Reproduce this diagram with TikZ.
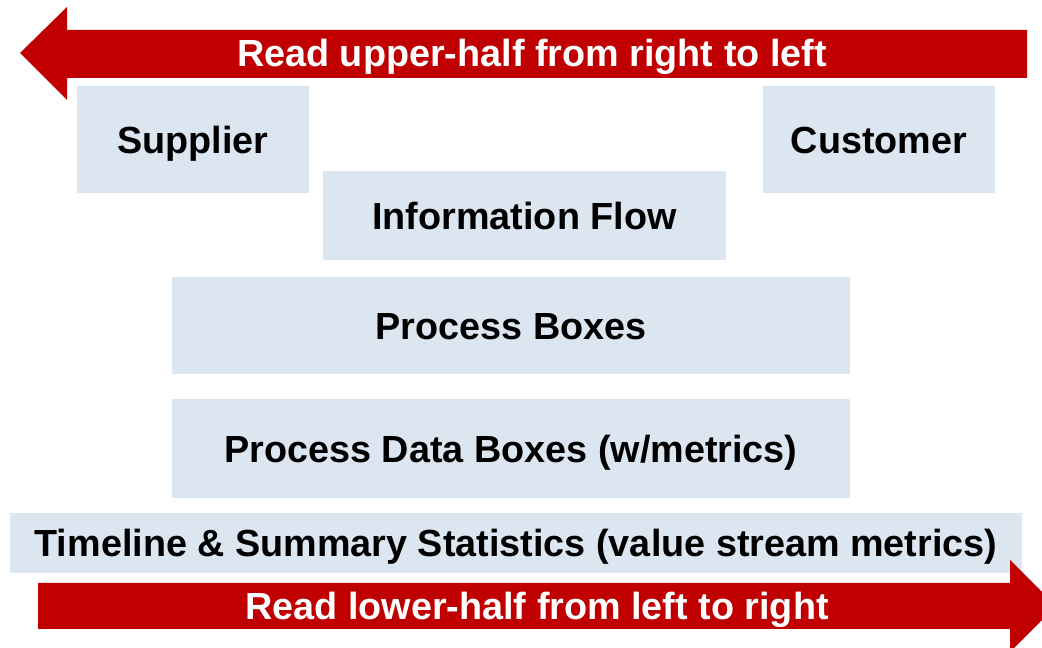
\documentclass[tikz,border=0pt]{standalone}
\usepackage{fontspec}
\setmainfont{Liberation Sans}
\usepackage{tikz}
\usetikzlibrary{calc}
\definecolor{arrowred}{HTML}{C00000}
\definecolor{boxblue}{HTML}{DCE6F1}
\tikzset{
  vsm/.style={fill=boxblue, inner sep=0pt, text height=15.5pt, text depth=0pt,
    font=\fontsize{21.5}{25}\selectfont\bfseries},
  readtxt/.style={text=white, inner sep=0pt, text height=15.5pt, text depth=0pt,
    font=\fontsize{21.5}{25}\selectfont\bfseries}
}

\begin{document}
\begin{tikzpicture}[x=0.02cm, y=0.02cm]
        \useasboundingbox (0,0) rectangle (1042,648);
        \clip (0,0) rectangle (1042,648);

        % upper arrow
        \fill[arrowred] (20,595) -- (67,641) -- (67,618) -- (1027,618)
            -- (1027,570) -- (67,570) -- (67,548) -- cycle;
        \node[readtxt] (upper) at (532,595) {Read upper-half from right to left};

        % boxes
        \node[vsm, minimum width=4.64cm, minimum height=2.14cm] (supplier) at (193,508.5) {Supplier};
        \node[vsm, minimum width=4.64cm, minimum height=2.14cm] (customer) at (879,508.5) {Customer};
        \node[vsm, minimum width=8.06cm, minimum height=1.78cm] (info) at (524.5,432.5) {Information Flow};
        \node[vsm, minimum width=13.56cm, minimum height=1.94cm] (process) at (511,322.5) {Process Boxes};
        \node[vsm, minimum width=13.56cm, minimum height=1.98cm] (data) at (511,199.5) {Process Data Boxes (w/metrics)};
        \node[vsm, minimum width=20.24cm, minimum height=1.2cm] (timeline) at (516,105) {Timeline \& Summary Statistics (value stream metrics)};

        % lower arrow
        \fill[arrowred] (38,65) -- (1010,65) -- (1010,88) -- (1056,42)
            -- (1010,-4) -- (1010,19) -- (38,19) -- cycle;
        \node[readtxt] (lower) at (537,42) {Read lower-half from left to right};
\end{tikzpicture}
\end{document}
